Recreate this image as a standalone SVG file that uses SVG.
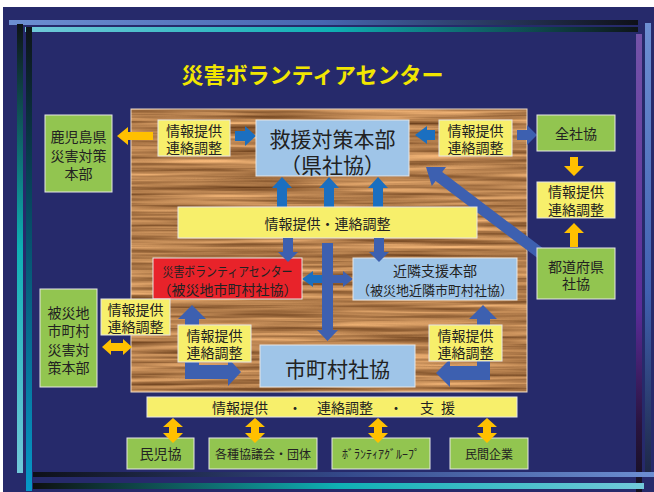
<svg xmlns="http://www.w3.org/2000/svg" width="654" height="492" viewBox="0 0 654 492">
<defs>
<style>
text{font-family:"Noto Sans CJK JP","Noto Sans",sans-serif;fill:#222;text-anchor:middle;dominant-baseline:central}
.g{fill:#92c550;stroke:#e6e6e6;stroke-width:1}
.y{fill:#f7ef6b;stroke:#e6e6e6;stroke-width:1}
.b{fill:#9fc5e8;stroke:#e6e6e6;stroke-width:1}
.r{fill:#e8232a;stroke:#e6e6e6;stroke-width:1}
.ab{fill:#1b6fc0}
.am{fill:#3d60b0}
.ay{fill:#ffc000}
.t14{font-size:14px}
.t13{font-size:13px}
.t12{font-size:12px}
.t21{font-size:21px}
</style>
<linearGradient id="gT1" x1="0" y1="0" x2="1" y2="0"><stop offset="0" stop-color="#6d8fd2"/><stop offset="0.5" stop-color="#4766b0"/><stop offset="1" stop-color="#0e1018"/></linearGradient>
<linearGradient id="gT2" x1="0" y1="0" x2="1" y2="0"><stop offset="0" stop-color="#72c9da"/><stop offset="0.5" stop-color="#0fb0b4"/><stop offset="1" stop-color="#0e1418"/></linearGradient>
<linearGradient id="gL1" x1="0" y1="0" x2="0" y2="1"><stop offset="0" stop-color="#0e1416"/><stop offset="0.5" stop-color="#0fb0b4"/><stop offset="1" stop-color="#72c9da"/></linearGradient>
<linearGradient id="gL2" x1="0" y1="0" x2="0" y2="1"><stop offset="0" stop-color="#0e1418"/><stop offset="0.35" stop-color="#07445a"/><stop offset="1" stop-color="#0698c8"/></linearGradient>
<linearGradient id="gR1" x1="0" y1="0" x2="0" y2="1"><stop offset="0" stop-color="#7453a8"/><stop offset="0.6" stop-color="#5a2c98"/><stop offset="0.85" stop-color="#2a1440"/><stop offset="1" stop-color="#141020"/></linearGradient>
<linearGradient id="gR2" x1="0" y1="0" x2="0" y2="1"><stop offset="0" stop-color="#6d8fd2"/><stop offset="0.6" stop-color="#4060b0"/><stop offset="1" stop-color="#1e2848"/></linearGradient>
<linearGradient id="gB1" x1="0" y1="0" x2="1" y2="0"><stop offset="0" stop-color="#0e1018"/><stop offset="0.5" stop-color="#34498a"/><stop offset="1" stop-color="#6d8fd2"/></linearGradient>
<linearGradient id="gB2" x1="0" y1="0" x2="1" y2="0"><stop offset="0" stop-color="#0e1010"/><stop offset="0.5" stop-color="#0fb0b4"/><stop offset="1" stop-color="#72c9da"/></linearGradient>
<filter id="wood" x="0" y="0" width="1" height="1" filterUnits="objectBoundingBox" color-interpolation-filters="sRGB">
<feTurbulence type="fractalNoise" baseFrequency="0.006 0.22" numOctaves="3" seed="7"/>
<feColorMatrix type="matrix" values="0.75 0 0 0 0.33  0.65 0 0 0 0.17  0.5 0 0 0 0.05  0 0 0 0 1"/>
</filter>
</defs>

<rect x="0" y="0" width="654" height="492" fill="#ffffff"/>
<rect x="3" y="7" width="651" height="485" fill="#262a6b"/>

<g id="frame">
<rect x="9" y="20" width="629" height="5" fill="url(#gT1)"/>
<rect x="25" y="27" width="613" height="5" fill="url(#gT2)"/>
<rect x="17" y="24" width="6" height="449" fill="url(#gL1)"/>
<rect x="26" y="27" width="6" height="464" fill="url(#gL2)"/>
<rect x="636" y="34" width="6" height="458" fill="url(#gR1)"/>
<rect x="645" y="23" width="6" height="449" fill="url(#gR2)"/>
<rect x="33" y="472" width="621" height="5" fill="url(#gB1)"/>
<rect x="33" y="483" width="611" height="6" fill="url(#gB2)"/>
</g>

<text id="title" x="312.5" y="73" style="font-size:22px;font-weight:bold;fill:#f2e600">災害ボランティアセンター</text>

<g id="panel">
<rect x="131" y="109" width="396" height="283" filter="url(#wood)"/>
<rect x="131" y="109" width="396" height="283" fill="none" stroke="#ead8c4" stroke-width="1"/>
</g>

<g id="connectors">
<polygon class="ay" points="117,136 128,127 128,132 153,132 153,140 128,140 128,145"/>
<polygon class="ab" points="235,131 245,131 245,126 256,136 245,146 245,141 235,141"/>
<polygon class="ab" points="415,135 427,126 427,130 435,130 435,140 427,140 427,144"/>
<polygon class="am" points="517,130 527,130 527,125 537,135 527,145 527,140 517,140"/>
<polygon class="ay" points="570,157 578,157 578,166 584,166 574,176 564,166 570,166"/>
<polygon class="ay" points="574,223 584,233 578,233 578,247 570,247 570,233 564,233"/>
<polygon class="am" points="426,167 446,166.9 442.2,172.1 547.3,251.6 540.7,260.4 435.6,180.9 431.8,186.1"/>
<polygon class="ab" points="282,177 292,188 287,188 287,207 277,207 277,188 272,188"/>
<polygon class="ab" points="329,177 339,188 334,188 334,207 324,207 324,188 319,188"/>
<polygon class="ab" points="378,177 388,188 383,188 383,207 373,207 373,188 368,188"/>
<polygon class="ab" points="302,279 313,271 313,275 328,275 328,283 313,283 313,287"/>
<polygon class="am" points="353,279 343,271 343,275 327,275 327,283 343,283 343,287"/>
<polygon class="am" points="322,243 333,243 333,330 338,330 327.5,341 317,330 322,330"/>
<polygon class="am" points="192,305 206,319 199,319 199,365 228,365 228,358 241,372 228,386 228,379 185,379 185,319 178,319"/>
<polygon class="am" points="483,305 497,319 490,319 490,380 450,380 450,387 436,373 450,359 450,366 477,366 477,319 469,319"/>
<polygon class="ay" points="102,347 111,339 111,343 123,343 123,339 132,347 123,355 123,351 111,351 111,355"/>
</g>

<g id="kagoshima">
<rect class="g" x="45" y="115" width="67" height="77"/>
<text class="t14" x="78.5" y="136">鹿児島県<tspan x="78.5" dy="18.5">災害対策</tspan><tspan x="78.5" dy="18.5">本部</tspan></text>
</g>

<g id="label-tl">
<rect class="y" x="158" y="120" width="72" height="36"/>
<text class="t14" x="194" y="130">情報提供<tspan x="194" dy="17">連絡調整</tspan></text>
</g>

<g id="kyuen">
<rect class="b" x="256" y="120" width="153" height="56"/>
<text class="t21" x="332.5" y="138">救援対策本部<tspan x="332.5" dy="26">（県社協）</tspan></text>
</g>

<g id="label-tr">
<rect class="y" x="439" y="120" width="73" height="36"/>
<text class="t14" x="475.5" y="130">情報提供<tspan x="475.5" dy="17">連絡調整</tspan></text>
</g>

<g id="zenshakyo">
<rect class="g" x="537" y="115" width="78" height="36"/>
<text class="t14" x="576" y="133">全社協</text>
</g>

<g id="label-r">
<rect class="y" x="537" y="182" width="78" height="36"/>
<text class="t14" x="576" y="191">情報提供<tspan x="576" dy="17.5">連絡調整</tspan></text>
</g>

<g id="todofuken">
<rect class="g" x="537" y="248" width="78" height="51"/>
<text class="t14" x="576" y="266">都道府県<tspan x="576" dy="17">社協</tspan></text>
</g>

<g id="middle-bar">
<rect class="y" x="178" y="207" width="299" height="31"/>
<text class="t14" x="327.5" y="223">情報提供・連絡調整</text>
</g>

<g id="vc-center">
<rect class="r" x="153" y="258" width="149" height="41"/>
<text class="t13" x="227.5" y="270" textLength="130" lengthAdjust="spacingAndGlyphs">災害ボランティアセンター</text>
<text class="t14" x="227.5" y="289">（被災地市町村社協）</text>
</g>

<g id="kinrin">
<rect class="b" x="353" y="258" width="164" height="42"/>
<text class="t14" x="435" y="270">近隣支援本部</text>
<text class="t13" x="435" y="289">（被災地近隣市町村社協）</text>
</g>

<g id="hisaichi">
<rect class="g" x="40" y="289" width="57" height="98"/>
<text class="t14" x="68.5" y="312">被災地<tspan x="68.5" dy="18.3">市町村</tspan><tspan x="68.5" dy="18.3">災害対</tspan><tspan x="68.5" dy="18.3">策本部</tspan></text>
</g>

<g id="label-l">
<rect class="y" x="101" y="299" width="69" height="36"/>
<text class="t14" x="135.5" y="308.5">情報提供<tspan x="135.5" dy="17">連絡調整</tspan></text>
</g>

<g id="label-bl">
<rect class="y" x="178" y="325" width="73" height="37"/>
<text class="t14" x="214.5" y="335">情報提供<tspan x="214.5" dy="17">連絡調整</tspan></text>
</g>

<g id="label-br">
<rect class="y" x="429" y="325" width="73" height="36"/>
<text class="t14" x="465.5" y="334.5">情報提供<tspan x="465.5" dy="17">連絡調整</tspan></text>
</g>

<g id="shichoson">
<rect class="b" x="260" y="345" width="155" height="42"/>
<text class="t21" x="337.5" y="368">市町村社協</text>
</g>

<g id="bottom-bar">
<rect class="y" x="147" y="397" width="370" height="20"/>
<text class="t14" x="240" y="407">情報提供</text>
<text class="t14" x="295" y="407">・</text>
<text class="t14" x="345" y="407">連絡調整</text>
<text class="t14" x="396" y="407">・</text>
<text class="t14" x="427" y="407">支</text>
<text class="t14" x="448" y="407">援</text>
</g>

<g id="minjikyo">
<rect class="g" x="127" y="438" width="67" height="31"/>
<text class="t14" x="160.5" y="453">民児協</text>
</g>
<g id="kakushu">
<rect class="g" x="209" y="438" width="108" height="31"/>
<text class="t12" x="263" y="453">各種協議会・団体</text>
</g>
<g id="volunteer-group">
<rect class="g" x="332" y="438" width="98" height="31"/>
<text class="t12" x="381" y="453">ﾎﾞﾗﾝﾃｨｱｸﾞﾙｰﾌﾟ</text>
</g>
<g id="minkan">
<rect class="g" x="450" y="438" width="78" height="31"/>
<text class="t12" x="489" y="453">民間企業</text>
</g>

<g id="connectors-front">
<polygon class="am" points="283,238 293,238 293,252 298,252 288,262 278,252 283,252"/>
<polygon class="am" points="374,238 384,238 384,252 389,252 379,262 369,252 374,252"/>
<polygon class="ay" points="173,418 183,427 177,427 177,433 183,433 173,443 163,433 169,433 169,427 163,427"/>
<polygon class="ay" points="255,418 265,427 259,427 259,433 265,433 255,443 245,433 251,433 251,427 245,427"/>
<polygon class="ay" points="378,418 388,427 382,427 382,433 388,433 378,443 368,433 374,433 374,427 368,427"/>
<polygon class="ay" points="487,418 497,427 491,427 491,433 497,433 487,443 477,433 483,433 483,427 477,427"/>
</g>
</svg>
